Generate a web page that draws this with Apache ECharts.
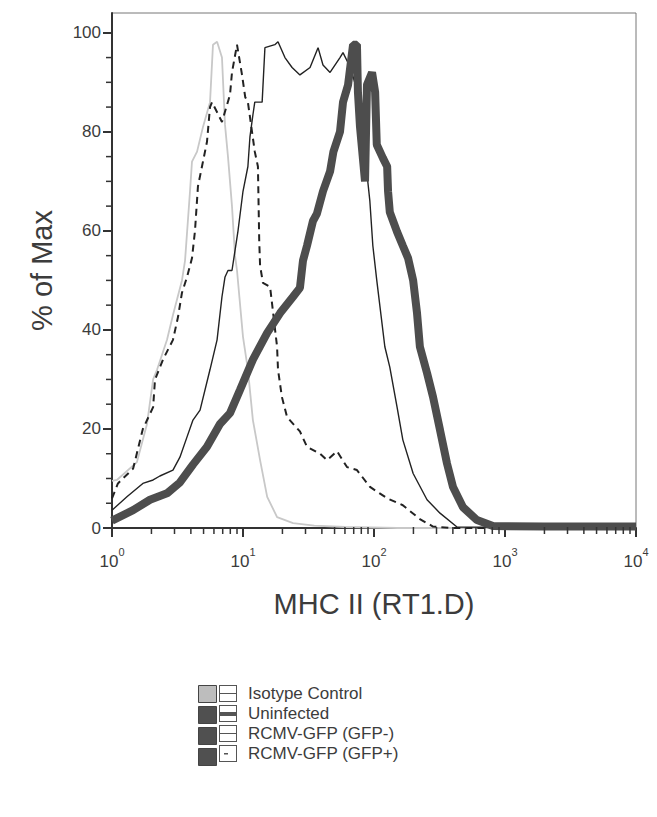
<!DOCTYPE html>
<html>
<head>
<meta charset="utf-8">
<script src="https://cdn.jsdelivr.net/npm/echarts@6/dist/echarts.min.js"></script>
<style>
  html, body { margin: 0; padding: 0; background: #fff; }
  #chart { width: 657px; height: 817px; }
</style>
</head>
<body>
<div id="chart"></div>
<script>
// MHC II (RT1.D) flow histogram, % of Max against log fluorescence

var seriesNames = ['Isotype Control', 'Uninfected', 'RCMV-GFP (GFP-)', 'RCMV-GFP (GFP+)'];
var xTickValues = [1, 10, 100, 1000, 10000];
// log axis minor ticks (2..9 in each decade)
var xMinorTicks = [2, 3, 4, 5, 6, 7, 8, 9, 20, 30, 40, 50, 60, 70, 80, 90,
  200, 300, 400, 500, 600, 700, 800, 900, 2000, 3000, 4000, 5000, 6000, 7000, 8000, 9000];
var yTickLabels = [0, 20, 40, 60, 80, 100];
var yMinorTicks = [5, 10, 15, 25, 30, 35, 45, 50, 55, 65, 70, 75, 85, 90, 95];

// Isotype Control (light grey)
var isoX = [1.0, 1.09, 1.55, 1.85, 2.06, 2.21, 2.63, 2.92, 3.42, 3.61, 3.94, 4.08, 4.46, 4.95, 5.6, 5.9, 6.34, 6.91, 7.29, 7.68, 8.24, 8.69, 9.0, 10.0, 10.9, 11.9, 13.5, 15.3, 18.2, 24.1, 35, 60, 150, 10000];
var isoY = [9.5, 9.7, 13.3, 21, 30, 32, 38, 43, 50, 54, 68, 74, 76, 81, 86, 97.6, 98.2, 95, 81.4, 75, 65, 55, 52, 38.6, 32, 21.8, 13.7, 6.3, 2.2, 1.0, 0.5, 0.2, 0, 0];

// Uninfected (dashed)
var uninfX = [1.0, 1.11, 1.45, 1.72, 2.06, 2.13, 2.45, 2.92, 3.19, 3.42, 3.74, 4.08, 4.3, 4.53, 5.31, 5.6, 5.8, 6.91, 7.96, 8.24, 9.0, 9.83, 10.4, 10.9, 12.3, 13.0, 13.1, 13.3, 13.5, 14.2, 16.1, 18.2, 18.5, 19.8, 21.7, 27.2, 30.8, 38.7, 43.8, 52.2, 62.2, 74.1, 93.2, 126, 166, 224, 282, 400, 10000];
var uninfY = [6, 9, 12, 20, 24.4, 30, 34, 38, 42.6, 47.5, 50.7, 54.5, 60, 69, 78, 85, 86, 82, 87.5, 92, 97.6, 91.5, 87, 86, 76, 73, 68, 58, 53, 49.5, 48.7, 36.6, 32, 26.5, 22.4, 19.5, 16.4, 15, 13.7, 15.5, 12.3, 11.7, 8.3, 6, 4.6, 1.8, 0.3, 0, 0];

// RCMV-GFP (GFP-) (thin solid)
var gfpNegX = [1.0, 1.3, 1.72, 2.06, 2.32, 2.92, 3.3, 3.74, 4.15, 4.7, 5.6, 6.34, 6.91, 7.29, 7.68, 8.24, 9.16, 10.0, 10.9, 11.3, 11.9, 12.3, 14.0, 14.7, 17.5, 18.5, 20.9, 23.7, 27.2, 32.5, 37.4, 40.8, 46.2, 55, 58, 66, 75, 82, 88, 93, 98, 105, 121, 132, 150, 166, 199, 254, 319, 430, 10000];
var gfpNegY = [3.6, 6.3, 9, 9.7, 10.5, 11.7, 14.3, 18.4, 21.8, 23.8, 32, 38, 46.7, 50.7, 52, 52, 60, 68, 73, 79, 83.4, 86, 86, 97, 97.6, 98.2, 95, 93, 91.5, 93, 97, 93.5, 92, 95, 96, 93, 88, 80, 72, 66, 57, 50, 36.6, 32.5, 24.4, 17.8, 11, 5.7, 3, 0.2, 0];

// RCMV-GFP (GFP+) (thick)
var gfpPosX = [1.0, 1.45, 1.95, 2.63, 3.3, 4.15, 5.31, 6.67, 7.96, 9.49, 11.9, 15.3, 19.2, 24.1, 27.2, 28.7, 30.8, 34.2, 36.7, 40.8, 46.2, 49, 55, 58, 63.4, 69.2, 74.1, 75.4, 78.2, 85.4, 88.4, 96.6, 102, 105, 117, 126, 128, 132, 150, 166, 182, 199, 213, 224, 254, 282, 319, 361, 401, 478, 611, 809, 2000, 10000];
var gfpPosY = [1.5, 3.6, 5.7, 7, 9.2, 12.8, 16.4, 21, 23.2, 27.9, 34, 39.4, 43.4, 46.7, 48.5, 54, 57, 62, 63.5, 68, 72, 76, 80, 86, 89.5, 97.6, 97.6, 88, 81, 70, 89.5, 92, 88, 77.4, 74.7, 73, 68, 63.8, 59.8, 57, 54.5, 50, 43.4, 36.6, 31.3, 26.5, 19.8, 13, 8.3, 4.2, 1.6, 0.4, 0.3, 0.3];

function pairs(xs, ys) {
  return xs.map(function (x, i) { return [x, ys[i]]; });
}

var font = "'Liberation Sans', Arial, sans-serif";
var textColor = '#3c3c3c';

// legend icons: outlined box with a line sample inside
var boxPath = 'M0,0H18V17H0Z M1,1V16H17V1Z';
var lineIcons = [
  'path://' + boxPath + ' M1,8H17V9H1Z',
  'path://' + boxPath + ' M1,7H17V11H1Z',
  'path://' + boxPath + ' M1,8H17V9H1Z',
  'path://' + boxPath + ' M5,8H9V9.5H5Z'
];
var fillColors = ['#bdbdbd', '#505050', '#505050', '#505050'];

// short tick marks placed through the axis scales
function tickSeries(name, values, onX) {
  return {
    name: name, type: 'custom', silent: true, clip: false, z: 6,
    data: values.map(function (v) { return onX ? [v, 0] : [1, v]; }),
    encode: { x: 0, y: 1 },
    renderItem: function (params, api) {
      var p = api.coord([api.value(0), api.value(1)]);
      var shape = onX
        ? { x1: p[0], y1: p[1] - 1, x2: p[0], y2: p[1] + 6 }
        : { x1: p[0] + 1, y1: p[1], x2: p[0] - 6, y2: p[1] };
      return { type: 'line', shape: shape, style: { stroke: '#333', lineWidth: 1.5 } };
    }
  };
}

var myChart = echarts.init(document.getElementById('chart'), null, { renderer: 'svg' });

var option = {
  animation: false,
  backgroundColor: '#fff',
  grid: {
    left: 112, top: 13, width: 524, height: 515,
    show: true, borderColor: '#777', borderWidth: 1
  },
  legend: [
    {
      orient: 'vertical', left: 193, top: 680,
      itemWidth: 18, itemHeight: 17, itemGap: 3,
      selectedMode: false, icon: 'rect',
      formatter: function () { return ''; },
      itemStyle: { borderColor: '#444', borderWidth: 1 },
      data: seriesNames.map(function (n, i) {
        return { name: n, itemStyle: { color: fillColors[i] } };
      })
    },
    {
      orient: 'vertical', left: 214, top: 680,
      itemWidth: 18, itemHeight: 17, itemGap: 3,
      selectedMode: false,
      textStyle: { fontFamily: font, fontSize: 17, color: textColor, padding: [0, 0, 0, 6] },
      data: seriesNames.map(function (n, i) {
        return { name: n, icon: lineIcons[i], itemStyle: { color: '#555' } };
      })
    }
  ],
  xAxis: {
    type: 'log', logBase: 10, min: 1, max: 10000,
    axisLine: { lineStyle: { color: '#333', width: 2 } },
    axisTick: { show: true, length: 9, lineStyle: { color: '#333', width: 2 } },
    splitLine: { show: false },
    axisLabel: {
      margin: 18,
      formatter: function (v) {
        if (xTickValues.indexOf(v) < 0) return '';
        return '{b|10}{s|' + Math.round(Math.log10(v)) + '}';
      },
      rich: {
        b: { fontFamily: font, fontSize: 17, color: textColor, lineHeight: 24, verticalAlign: 'bottom' },
        s: { fontFamily: font, fontSize: 11, color: textColor, lineHeight: 12, verticalAlign: 'top' }
      }
    },
    name: 'MHC II (RT1.D)', nameLocation: 'middle', nameGap: 61,
    nameTextStyle: { fontFamily: font, fontSize: 29, color: textColor }
  },
  yAxis: {
    type: 'value', min: 0, max: 104, interval: 20,
    axisLine: { show: true, lineStyle: { color: '#333', width: 2 } },
    axisTick: { show: true, length: 9, lineStyle: { color: '#333', width: 2 } },
    splitLine: { show: false },
    axisLabel: {
      margin: 11, showMaxLabel: false,
      fontFamily: font, fontSize: 17, color: textColor,
      formatter: function (v) { return yTickLabels.indexOf(v) >= 0 ? String(v) : ''; }
    },
    name: '% of Max', nameLocation: 'middle', nameGap: 56, nameRotate: 90,
    nameTextStyle: { fontFamily: font, fontSize: 29, color: textColor }
  },
  series: [
    {
      name: seriesNames[0], type: 'line', symbol: 'none', z: 2,
      data: pairs(isoX, isoY),
      itemStyle: { color: '#c4c4c4' },
      lineStyle: { color: '#c8c8c8', width: 1.8 }
    },
    {
      name: seriesNames[1], type: 'line', symbol: 'none', z: 3,
      data: pairs(uninfX, uninfY),
      itemStyle: { color: '#222' },
      lineStyle: { color: '#222', width: 2, type: [7, 5] }
    },
    {
      name: seriesNames[2], type: 'line', symbol: 'none', z: 4,
      data: pairs(gfpNegX, gfpNegY),
      itemStyle: { color: '#222' },
      lineStyle: { color: '#222', width: 1.4 }
    },
    {
      name: seriesNames[3], type: 'line', symbol: 'none', z: 5,
      data: pairs(gfpPosX, gfpPosY),
      itemStyle: { color: '#4d4d4d' },
      lineStyle: { color: '#4d4d4d', width: 8, join: 'bevel' }
    },
    tickSeries('xMinorTicks', xMinorTicks, true),
    tickSeries('yMinorTicks', yMinorTicks, false)
  ]
};

myChart.setOption(option);
</script>
</body>
</html>
